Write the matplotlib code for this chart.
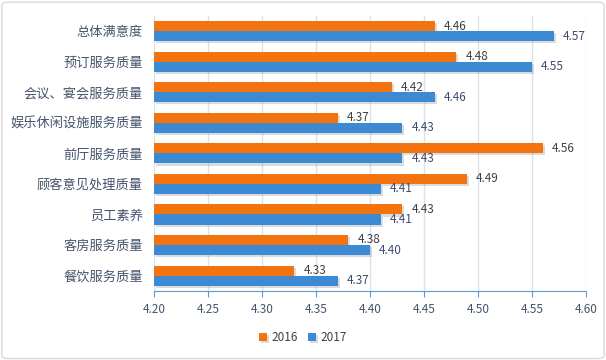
import matplotlib.pyplot as plt
import numpy as np
import matplotlib.patheffects as pe
from matplotlib.patches import FancyBboxPatch

plt.rcParams['font.family'] = ['Noto Sans CJK SC', 'DejaVu Sans']

categories = ['总体满意度', '预订服务质量', '会议、宴会服务质量', '娱乐休闲设施服务质量', '前厅服务质量',
              '顾客意见处理质量', '员工素养', '客房服务质量', '餐饮服务质量']
v2016 = [4.46, 4.48, 4.42, 4.37, 4.56, 4.49, 4.43, 4.38, 4.33]
v2017 = [4.57, 4.55, 4.46, 4.43, 4.43, 4.41, 4.41, 4.40, 4.37]
xticks = [4.20, 4.25, 4.30, 4.35, 4.40, 4.45, 4.50, 4.55, 4.60]

c16 = '#f3730f'
c17 = '#3d8ad4'
txt = '#44546a'

fig = plt.figure(figsize=(6.06, 3.6), dpi=100)
ax = fig.add_axes([0.254, 0.192, 0.713, 0.764])

# light border around the chart
fig.patches.append(FancyBboxPatch((0.003, 0.004), 0.994, 0.99, boxstyle='round,pad=0,rounding_size=0.01',
                                  transform=fig.transFigure, fill=False, edgecolor='#d9d9d9', lw=1))

y = np.arange(len(categories))
h = 0.33
base = 4.20
shadow = [pe.SimplePatchShadow(offset=(1.5, -1.5), shadow_rgbFace='#999999', alpha=0.35), pe.Normal()]
b1 = ax.barh(y - h / 2, np.array(v2016) - base, left=base, height=h, color=c16, label='2016', zorder=3)
b2 = ax.barh(y + h / 2, np.array(v2017) - base, left=base, height=h, color=c17, label='2017', zorder=3)
for p in list(b1) + list(b2):
    p.set_path_effects(shadow)

for yy, v in zip(y, v2016):
    ax.annotate(f'{v:.2f}', (v, yy - h / 2), xytext=(6.5, 0), textcoords='offset points',
                va='center', ha='left', fontsize=8.5, color='#404040')
for yy, v in zip(y, v2017):
    ax.annotate(f'{v:.2f}', (v, yy + h / 2), xytext=(6.5, 0), textcoords='offset points',
                va='center', ha='left', fontsize=8.5, color='#404a70')

ax.set_xlim(4.20, 4.60)
ax.set_ylim(8.5, -0.5)
ax.set_xticks(xticks)
ax.set_xticklabels([f'{t:.2f}' for t in xticks])
ax.set_yticks(y)
ax.set_yticklabels(categories)
ax.tick_params(axis='y', length=0, labelsize=9.5, labelcolor=txt, pad=8)
ax.tick_params(axis='x', length=4, color='#5b9bd5', labelsize=8.5, labelcolor=txt, pad=5)
ax.grid(axis='x', color='#d9e1ea', lw=1, zorder=0)
for s in ['top', 'right', 'left']:
    ax.spines[s].set_visible(False)
ax.spines['bottom'].set_color('#5b9bd5')
ax.spines['bottom'].set_zorder(4)

ax.legend(loc='center', bbox_to_anchor=(0.5, 0.062), bbox_transform=fig.transFigure, ncol=2, frameon=False,
          fontsize=8.5, handlelength=0.7, handleheight=0.7, handletextpad=0.4, columnspacing=0.8,
          labelcolor='#404040')

fig.savefig('out.png', dpi=100)
